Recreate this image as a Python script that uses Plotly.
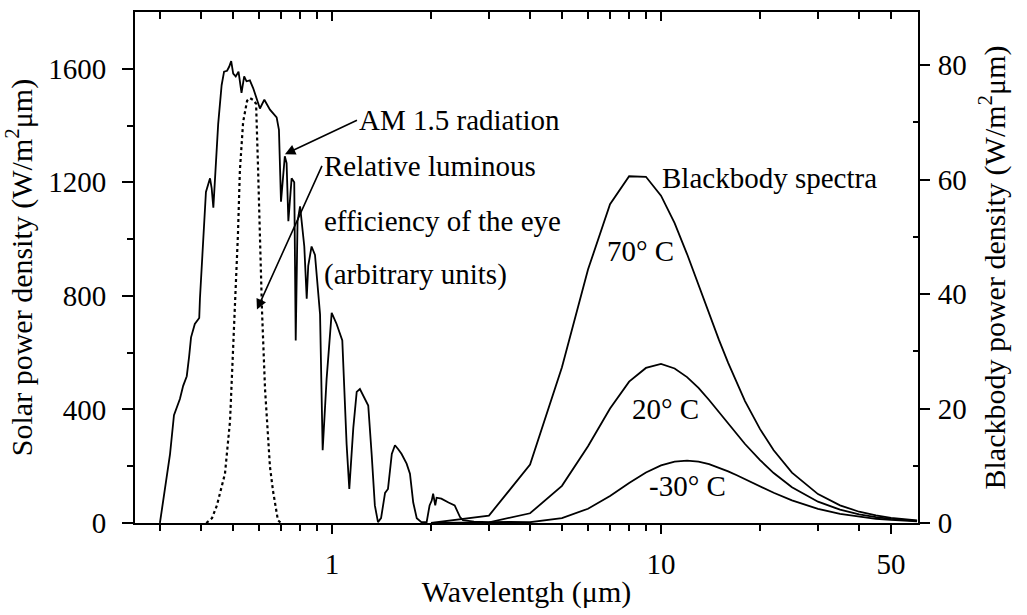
import plotly.graph_objects as go
import math

# ---------------- data ----------------
solar_wl = [0.300, 0.311, 0.322, 0.331, 0.337, 0.345, 0.353, 0.362, 0.368, 0.373,
            0.383, 0.395, 0.397, 0.406, 0.414, 0.426, 0.431, 0.436, 0.441, 0.451,
            0.462, 0.470, 0.480, 0.487, 0.494, 0.501, 0.510, 0.520, 0.531, 0.541,
            0.550, 0.563, 0.576, 0.590, 0.604, 0.623, 0.648, 0.679, 0.690, 0.700,
            0.719, 0.728, 0.737, 0.754, 0.768, 0.776, 0.786, 0.800, 0.824, 0.838,
            0.847, 0.867, 0.888, 0.920, 0.937, 0.963, 0.998, 1.033, 1.075, 1.108,
            1.129, 1.161, 1.189, 1.216, 1.245, 1.289, 1.32, 1.35, 1.38, 1.41,
            1.45, 1.48, 1.52, 1.554, 1.59, 1.628, 1.686, 1.726, 1.766, 1.81,
            1.87, 1.94, 1.98, 2.01, 2.03, 2.06, 2.08, 2.15, 2.26, 2.36,
            2.45, 2.50, 2.7, 3.0, 3.5, 4.0]
solar_pd = [0, 120, 243, 380, 403, 437, 483, 517, 586, 654,
            701, 722, 791, 1019, 1166, 1214, 1179, 1111, 1200, 1405,
            1542, 1590, 1593, 1607, 1627, 1583, 1573, 1590, 1515, 1573,
            1556, 1559, 1532, 1491, 1460, 1491, 1456, 1429, 1385, 1132,
            1292, 1268, 1063, 1214, 1200, 643, 1063, 1115, 974, 790,
            906, 974, 944, 735, 256, 506, 740, 701, 643, 277,
            120, 335, 462, 472, 448, 414, 243, 62, 3, 17,
            106, 120, 243, 274, 260, 243, 209, 174, 72, 17,
            3, 3, 62, 79, 103, 62, 89, 86, 72, 62,
            21, 10, 5, 3, 4, 2]

eye_wl = [0.415, 0.432, 0.447, 0.463, 0.473, 0.490, 0.500, 0.511, 0.518, 0.525,
          0.537, 0.552, 0.563, 0.575, 0.588, 0.596, 0.604, 0.613, 0.626, 0.639,
          0.648, 0.662, 0.685, 0.700]
eye_rel = [0, 17, 62, 130, 174, 359, 586, 814, 1019, 1241,
           1412, 1487, 1497, 1491, 1477, 1255, 985, 745, 472, 301,
           198, 113, 10, 0]

bb_wl = [2, 3, 4, 5, 6, 7, 8, 9, 10, 11, 12, 13, 14, 15, 16, 17, 18, 20, 22,
         25, 30, 35, 40, 45, 50, 60]
bb_70C = [0.01, 1.3, 10.2, 27.2, 44.3, 55.7, 60.6, 60.5, 57.2, 52.4, 47.0, 41.6,
          36.6, 32.0, 28.0, 24.4, 21.3, 16.4, 12.7, 8.8, 5.05, 3.08, 1.97, 1.32,
          0.91, 0.47]
bb_20C = [0.0, 0.12, 1.70, 6.50, 13.4, 20.0, 24.7, 27.1, 27.8, 27.0, 25.5, 23.6,
          21.5, 19.4, 17.4, 15.5, 13.8, 11.0, 8.73, 6.25, 3.72, 2.32, 1.51, 1.03,
          0.72, 0.38]
bb_m30C = [0.0, 0.0, 0.14, 0.86, 2.49, 4.72, 6.98, 8.82, 10.06, 10.72, 10.90,
           10.71, 10.28, 9.70, 9.03, 8.35, 7.67, 6.39, 5.28, 3.96, 2.48, 1.61,
           1.08, 0.74, 0.53, 0.29]

x_ticks = [1, 10, 50]
x_minor = [0.3, 0.4, 0.5, 0.6, 0.7, 0.8, 0.9, 2, 3, 4, 5, 6, 7, 8, 9, 20, 30, 40]
y_left_ticks = [0, 400, 800, 1200, 1600]
y_left_minor = [200, 600, 1000, 1400]
y_right_ticks = [0, 20, 40, 60, 80]
y_right_minor = [10, 30, 50, 70]

# ---------------- figure ----------------
FONT = "Liberation Serif, Times New Roman, serif"
BLACK = "black"
TICK = 29
TITLE = 30
ANN = 29
xr = [math.log10(0.252), math.log10(60.4)]

fig = go.Figure()
fig.add_trace(go.Scatter(x=solar_wl, y=solar_pd, mode="lines",
                         line=dict(color=BLACK, width=1.8), xaxis="x", yaxis="y"))
fig.add_trace(go.Scatter(x=eye_wl, y=eye_rel, mode="lines",
                         line=dict(color=BLACK, width=2.2, dash="dot"), xaxis="x", yaxis="y"))
for ser in (bb_70C, bb_20C, bb_m30C):
    fig.add_trace(go.Scatter(x=bb_wl, y=ser, mode="lines",
                             line=dict(color=BLACK, width=1.8), xaxis="x2", yaxis="y2"))

fig.update_layout(
    width=1027, height=615, autosize=False,
    margin=dict(l=135, r=109, t=12, b=77, pad=0),
    paper_bgcolor="white", plot_bgcolor="white",
    showlegend=False,
    font=dict(family=FONT, size=TICK, color=BLACK),
    xaxis=dict(type="log", range=xr, tickmode="array", tickvals=x_ticks,
               ticktext=[str(v) for v in x_ticks],
               ticks="outside", ticklen=9, tickwidth=2, tickcolor=BLACK,
               minor=dict(tickmode="array", tickvals=x_minor, ticks="outside",
                          ticklen=6, tickwidth=1.5, tickcolor=BLACK),
               showline=True, linewidth=2, linecolor=BLACK, showgrid=False,
               zeroline=False, ticklabelstandoff=5,
               tickfont=dict(size=TICK),
               title=dict(text="Wavelentgh (μm)", font=dict(size=TITLE), standoff=2)),
    xaxis2=dict(type="log", range=xr, overlaying="x", side="top", anchor="y",
                tickmode="array", tickvals=[1, 10], showticklabels=False,
                ticks="inside", ticklen=9, tickwidth=2, tickcolor=BLACK,
                minor=dict(tickmode="array", tickvals=x_minor + [50], ticks="inside",
                           ticklen=7, tickwidth=1.5, tickcolor=BLACK),
                showline=True, linewidth=2, linecolor=BLACK, showgrid=False,
                zeroline=False),
    yaxis=dict(range=[0, 1800], tickmode="array", tickvals=y_left_ticks,
               ticks="outside", ticklen=11, tickwidth=2, tickcolor=BLACK,
               minor=dict(tickmode="array", tickvals=y_left_minor, ticks="outside",
                          ticklen=6, tickwidth=1.5, tickcolor=BLACK),
               showline=True, linewidth=2, linecolor=BLACK, showgrid=False,
               zeroline=False, ticklabelstandoff=10, tickfont=dict(size=TICK),
               title=dict(text="Solar power density (W/m<sup>2</sup>μm)",
                          font=dict(size=TITLE), standoff=12)),
    yaxis2=dict(range=[0, 89.3], overlaying="y", side="right", anchor="x",
                tickmode="array", tickvals=y_right_ticks,
                ticks="outside", ticklen=10, tickwidth=2, tickcolor=BLACK,
                minor=dict(tickmode="array", tickvals=y_right_minor, ticks="inside",
                           ticklen=5, tickwidth=1.5, tickcolor=BLACK),
                showline=True, linewidth=2, linecolor=BLACK, showgrid=False,
                zeroline=False, ticklabelstandoff=2, tickfont=dict(size=TICK),
                title=dict(text="Blackbody power density (W/m<sup>2</sup>μm)",
                           font=dict(size=TITLE), standoff=18)),
)

# labels with arrows: text anchored at (ax, ay), arrow head at (x, y)
arrow_labels = [
    ("AM 1.5 radiation", 0.076, 1419, math.log10(0.7197), 1299),
    ("Relative luminous", -0.0304, 1258, math.log10(0.5916), 752),
]
for t, tx, ty, hx, hy in arrow_labels:
    fig.add_annotation(text=t, x=hx, y=hy, ax=tx, ay=ty, xref="x", yref="y",
                       axref="x", ayref="y", xanchor="left", yanchor="middle",
                       showarrow=True, arrowhead=2, arrowsize=1.3, arrowwidth=1.6,
                       arrowcolor=BLACK, standoff=0, startstandoff=0,
                       font=dict(size=ANN))

texts_left = [
    ("efficiency of the eye", -0.0304, 1063),
    ("(arbitrary units)", -0.0304, 875),
]
for t, x, y in texts_left:
    fig.add_annotation(text=t, x=x, y=y, xref="x", yref="y", xanchor="left",
                       yanchor="middle", showarrow=False, font=dict(size=ANN))

texts_bb = [
    ("Blackbody spectra", 0.997, 60.3),
    ("70° C", 0.830, 47.6),
    ("20° C", 0.906, 20.0),
    ("-30° C", 0.957, 6.45),
]
for t, x, y in texts_bb:
    fig.add_annotation(text=t, x=x, y=y, xref="x2", yref="y2", xanchor="left",
                       yanchor="middle", showarrow=False, font=dict(size=ANN))

fig.write_html("out.html", config={"displayModeBar": False},
               post_script="document.body.style.margin='0';")
